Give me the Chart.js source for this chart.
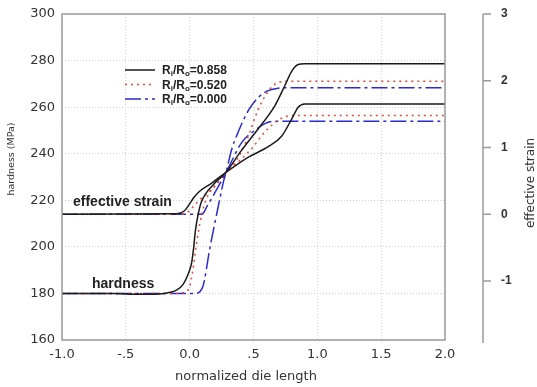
<!DOCTYPE html>
<html>
<head>
<meta charset="utf-8">
<script src="https://cdn.jsdelivr.net/npm/chart.js@4.4.0/dist/chart.umd.min.js"></script>
<style>
  html, body { margin: 0; padding: 0; background: #fff; }
  canvas { display: block; }
</style>
</head>
<body>
<canvas id="chart" width="537" height="387"></canvas>
<script>
// axis ticks
const xTicks = [-1.0, -0.5, 0.0, 0.5, 1.0, 1.5, 2.0];
const xTickLabels = ['-1.0', '-.5', '0.0', '.5', '1.0', '1.5', '2.0'];
const hardnessTicks = [160, 180, 200, 220, 240, 260, 280, 300];
const strainTicks = [-1, 0, 1, 2, 3];
const strainMin = -1.884;
const strainMax = 3;
const seriesNames = ['0.858', '0.520', '0.000'];

// hardness (MPa), Ri/Ro = 0.858 / 0.520 / 0.000
const hard858X = [-1.0, -0.6, -0.4, -0.2, -0.1, -0.05, -0.01, 0.015, 0.03, 0.045, 0.065, 0.09, 0.19, 0.285, 0.4, 0.537, 0.668, 0.746, 0.8, 0.85, 0.9, 2.0];
const hard858 = [180, 180, 179.6, 180, 181.5, 184, 188.6, 193, 199, 207, 213.5, 219, 227, 232, 241, 250.7, 260.7, 269.3, 275.5, 278.3, 278.6, 278.6];
const hard520X = [-1.0, -0.12, -0.04, 0.0, 0.025, 0.05, 0.08, 0.12, 0.225, 0.285, 0.37, 0.446, 0.537, 0.6, 0.66, 0.73, 0.78, 2.0];
const hard520 = [180, 180, 180.5, 183, 190, 200, 210, 219, 228, 232, 237.5, 245.7, 259, 265.5, 269.5, 271, 271.1, 271.1];
const hard000X = [-1.0, 0.04, 0.1, 0.16, 0.2, 0.234, 0.265, 0.285, 0.33, 0.38, 0.46, 0.54, 0.615, 0.69, 0.75, 2.0];
const hard000 = [180, 180, 182.5, 200, 211, 220, 228, 232, 242, 249.3, 258.6, 264.3, 267.1, 268.1, 268.3, 268.3];

// effective strain, same three radii
const strain858X = [-1.0, -0.1, -0.04, 0.0, 0.03, 0.08, 0.17, 0.285, 0.46, 0.615, 0.72, 0.8, 0.85, 0.9, 2.0];
const strain858 = [0, 0.007, 0.052, 0.157, 0.244, 0.349, 0.464, 0.628, 0.855, 1.012, 1.168, 1.43, 1.604, 1.653, 1.653];
const strain520X = [-1.0, -0.08, -0.02, 0.02, 0.06, 0.135, 0.213, 0.285, 0.39, 0.49, 0.59, 0.66, 0.73, 0.8, 2.0];
const strain520 = [0, 0, 0.028, 0.098, 0.185, 0.31, 0.453, 0.628, 0.802, 0.994, 1.238, 1.36, 1.448, 1.479, 1.479];
const strain000X = [-1.0, 0.095, 0.14, 0.2, 0.285, 0.41, 0.51, 0.59, 0.655, 0.7, 2.0];
const strain000 = [0, 0, 0.133, 0.331, 0.628, 1.081, 1.256, 1.357, 1.392, 1.395, 1.395];

const styles = [
  { color: '#1a1a1a', dash: [] },
  { color: '#e8453c', dash: [2, 4] },
  { color: '#2b2bd0', dash: [16, 4, 3, 4] }
];

function pts(xs, ys) {
  return xs.map((x, i) => ({ x: x, y: ys[i] }));
}

function line(label, data, style, axis) {
  return {
    label: label,
    data: data,
    yAxisID: axis,
    borderColor: style.color,
    borderDash: style.dash,
    borderWidth: 1.5,
    pointRadius: 0,
    fill: false,
    cubicInterpolationMode: 'monotone'
  };
}

const datasets = [
  line(seriesNames[0], pts(hard858X, hard858), styles[0], 'y'),
  line(seriesNames[1], pts(hard520X, hard520), styles[1], 'y'),
  line(seriesNames[2], pts(hard000X, hard000), styles[2], 'y'),
  line('strain ' + seriesNames[0], pts(strain858X, strain858), styles[0], 'y2'),
  line('strain ' + seriesNames[1], pts(strain520X, strain520), styles[1], 'y2'),
  line('strain ' + seriesNames[2], pts(strain000X, strain000), styles[2], 'y2')
];

Chart.defaults.font.family = 'DejaVu Sans';
Chart.defaults.color = '#333';

const gridOpts = { color: '#d0d0d0', lineWidth: 1, drawTicks: false };

// fixed box sizes, no extra label padding pushed into the layout
function fixBox(w, h) {
  return s => {
    if (w) s.width = w;
    if (h) s.height = h;
    s.paddingTop = 0;
    s.paddingBottom = 0;
    s.paddingLeft = 0;
    s.paddingRight = 0;
  };
}

// frame, right strain axis, titles, legend, labels
const decor = {
  id: 'decor',
  afterDraw(chart) {
    const { ctx, chartArea: a, scales } = chart;
    ctx.save();
    ctx.strokeStyle = '#9a9a9a';
    ctx.lineWidth = 1.5;
    ctx.strokeRect(a.left, a.top, a.right - a.left, a.bottom - a.top);

    const ax = 483;
    ctx.beginPath();
    ctx.moveTo(ax, a.top);
    ctx.lineTo(ax, a.bottom + 3);
    strainTicks.forEach(v => {
      const y = scales.y2.getPixelForValue(v);
      ctx.moveTo(ax, y);
      ctx.lineTo(ax + 8, y);
    });
    ctx.stroke();

    ctx.fillStyle = '#333';
    ctx.textAlign = 'center';
    ctx.textBaseline = 'middle';
    ctx.font = '13px "DejaVu Sans"';
    ctx.fillText('normalized die length', 246, 377);

    ctx.save();
    ctx.translate(12, 159);
    ctx.rotate(-Math.PI / 2);
    ctx.font = '9.5px "DejaVu Sans"';
    ctx.fillText('hardness (MPa)', 0, 0);
    ctx.restore();

    ctx.save();
    ctx.translate(531, 183);
    ctx.rotate(-Math.PI / 2);
    ctx.font = '12px "DejaVu Sans"';
    ctx.fillText('effective strain', 0, 0);
    ctx.restore();

    // legend
    ctx.textAlign = 'left';
    for (let i = 0; i < 3; i++) {
      const ds = chart.data.datasets[i];
      const y = 70 + i * 14.5;
      ctx.save();
      ctx.strokeStyle = ds.borderColor;
      ctx.lineWidth = 1.5;
      ctx.setLineDash(ds.borderDash);
      ctx.beginPath();
      ctx.moveTo(125, y);
      ctx.lineTo(155, y);
      ctx.stroke();
      ctx.restore();

      ctx.fillStyle = '#222';
      let x = 162;
      const big = 'bold 12px "Liberation Sans"';
      const small = 'bold 8px "Liberation Sans"';
      const parts = [['R', big, 0], ['i', small, 3], ['/R', big, 0], ['o', small, 3], ['=' + ds.label, big, 0]];
      parts.forEach(p => {
        ctx.font = p[1];
        ctx.fillText(p[0], x, y + 1 + p[2]);
        x += ctx.measureText(p[0]).width;
      });
    }

    ctx.fillStyle = '#222';
    ctx.font = 'bold 14px "Liberation Sans"';
    ctx.fillText('effective strain', 73, 202);
    ctx.fillText('hardness', 92, 284);
    ctx.restore();
  }
};

new Chart(document.getElementById('chart'), {
  type: 'line',
  data: { datasets: datasets },
  plugins: [decor],
  options: {
    responsive: false,
    animation: false,
    devicePixelRatio: 1,
    layout: { padding: { top: 14, left: 0, right: 0, bottom: 0 } },
    plugins: { legend: { display: false }, tooltip: { enabled: false } },
    scales: {
      x: {
        type: 'linear',
        min: -1,
        max: 2,
        afterBuildTicks: s => { s.ticks = xTicks.map(v => ({ value: v })); },
        afterFit: fixBox(0, 47),
        ticks: {
          padding: 7,
          maxRotation: 0,
          autoSkip: false,
          font: { size: 13 },
          callback: (v, i) => xTickLabels[i]
        },
        grid: gridOpts,
        border: { display: false, dash: [1, 2] }
      },
      y: {
        type: 'linear',
        position: 'left',
        min: 160,
        max: 300,
        afterBuildTicks: s => { s.ticks = hardnessTicks.map(v => ({ value: v })); },
        afterFit: fixBox(62, 0),
        ticks: { padding: 7, font: { size: 13 } },
        grid: gridOpts,
        border: { display: false, dash: [1, 2] }
      },
      y2: {
        type: 'linear',
        position: 'right',
        min: strainMin,
        max: strainMax,
        afterBuildTicks: s => { s.ticks = strainTicks.map(v => ({ value: v })); },
        afterFit: fixBox(92, 0),
        ticks: {
          padding: 56,
          crossAlign: 'near',
          font: { size: 12, weight: 'bold', family: 'Liberation Sans' }
        },
        grid: { display: false, drawTicks: false },
        border: { display: false }
      }
    }
  }
});
</script>
</body>
</html>
